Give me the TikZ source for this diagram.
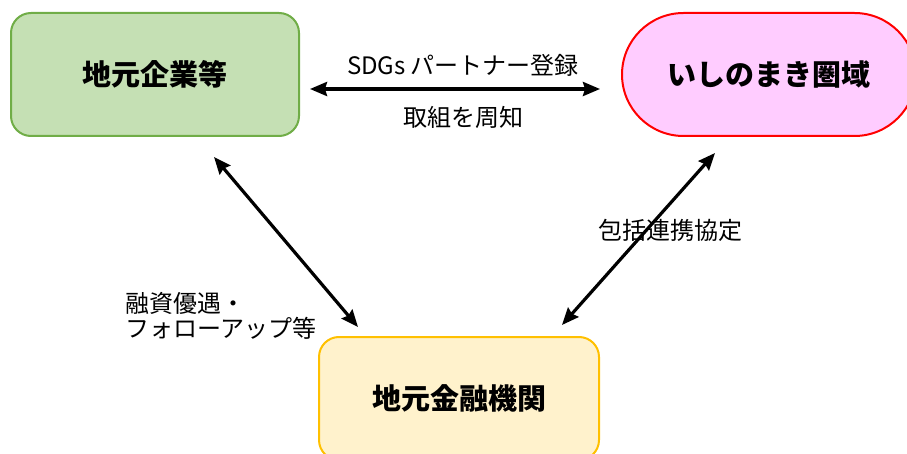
\documentclass[tikz,border=0pt]{standalone}
\usepackage{fontspec}
\setmainfont{Noto Sans CJK JP}
\usetikzlibrary{arrows.meta}
\definecolor{gfill}{HTML}{C5E0B4}
\definecolor{gline}{HTML}{70AD47}
\definecolor{pfill}{HTML}{FFCCFF}
\definecolor{pline}{HTML}{FF0000}
\definecolor{yfill}{HTML}{FFF2CC}
\definecolor{yline}{HTML}{FFC000}
\tikzset{
  box/.style={line width=2pt, minimum height=123pt, inner sep=0pt,
    font=\fontsize{29}{32}\selectfont\bfseries},
  lbl/.style={inner sep=0pt, font=\fontsize{24}{25}\selectfont},
  link/.style={line width=3.2pt, {Stealth[length=17pt,width=14pt,inset=2pt]}-{Stealth[length=17pt,width=14pt,inset=2pt]}}
}
\begin{document}
\begin{tikzpicture}[x=1pt,y=-1pt]
\useasboundingbox (0,0) rectangle (907,454);
\clip (0,0) rectangle (907,454);
\node[box, draw=gline, fill=gfill, rounded corners=20pt, minimum width=288pt] (firms) at (155,74.5) {地元企業等};
\node[box, draw=pline, fill=pfill, rounded corners=61.5pt, minimum width=294pt] (area) at (769,74.5) {いしのまき圏域};
\node[box, draw=yline, fill=yfill, rounded corners=20pt, minimum width=280pt] (bank) at (459,398.5) {地元金融機関};
\coordinate (h1) at (310,89);
\coordinate (h2) at (600,89);
\coordinate (l1) at (214,157);
\coordinate (l2) at (358,327);
\coordinate (r1) at (715,153);
\coordinate (r2) at (562,325);
\draw[link] (h1) -- (h2);
\draw[link] (l1) -- (l2);
\draw[link] (r1) -- (r2);
\node[lbl] (sdg) at (463,65) {SDGs パートナー登録};
\node[lbl] (shuchi) at (463,117) {取組を周知};
\node[lbl] (kyotei) at (670,230) {包括連携協定};
\node[lbl, anchor=west, align=left] (yugu) at (125,315.5) {融資優遇・\\フォローアップ等};
\end{tikzpicture}
\end{document}
